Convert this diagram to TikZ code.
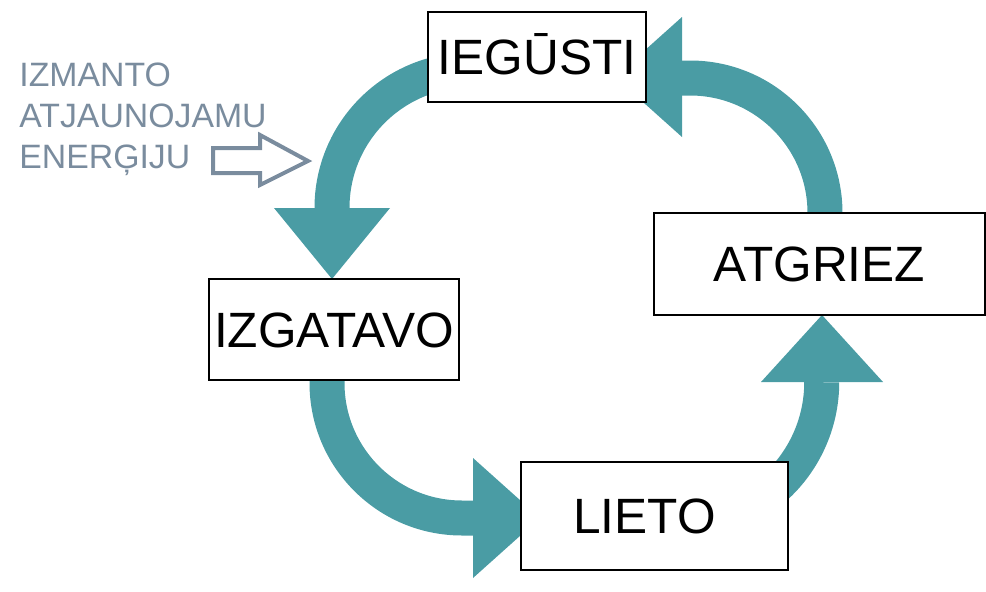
\documentclass[tikz,border=0pt]{standalone}
\usepackage{fontspec}
\setmainfont{Liberation Sans}
\definecolor{cycleteal}{RGB}{74,156,164}
\definecolor{notegray}{RGB}{122,140,158}
\tikzset{
  stagebox/.style={draw, rectangle, fill=white, line width=0.7pt, inner sep=0pt, font=\fontsize{24.8}{30}\selectfont, text height=17.8pt, text depth=0pt},
  band/.style={draw=cycleteal, line width=17.5pt},
  bandhead/.style={fill=cycleteal},
  noteline/.style={text=notegray, font=\fontsize{16.9}{20}\selectfont, text width=130pt, align=left, inner sep=0pt, text height=12.1pt, text depth=0pt}
}
\begin{document}
\begin{tikzpicture}[x=0.5pt, y=0.5pt]
\useasboundingbox (0,0) rectangle (986,591);
% the four curved arrows
\draw[band] (470,521) arc[start angle=90, end angle=180, radius=138] -- (332,383);
\fill[bandhead] (274,383) -- (390,383) -- (332,312) -- cycle;
\draw[band] (327,225) -- (327,208) arc[start angle=180, end angle=270, radius=135] -- (473,73);
\fill[bandhead] (473,133) -- (540,73) -- (473,13) -- cycle;
\draw[band] (771,100) arc[start angle=-50, end angle=0, radius=142] -- (822,209);
\fill[bandhead] (761,209) -- (883,209) -- (822,276) -- cycle;
\draw[band] (825,360) -- (825,378) arc[start angle=0, end angle=90, radius=135] -- (682,513);
\fill[bandhead] (682,574) -- (682,454) -- (615,514) -- cycle;
% stages
\node (iegusti) [stagebox, minimum width=109pt, minimum height=45pt] at (537,534) {IEGŪSTI};
\node (izgatavo) [stagebox, minimum width=125pt, minimum height=50.5pt] at (334,261.5) {IZGATAVO};
\node (lieto) [stagebox, minimum width=133.5pt, minimum height=54pt] at (654.5,75) {\kern-10pt LIETO};
\node (atgriez) [stagebox, minimum width=165.5pt, minimum height=51pt] at (819.5,327) {ATGRIEZ};
% note on the left
\node (izmanto) [noteline, anchor=north west] at (19,529) {IZMANTO};
\node (atjauno) [noteline, node distance=20.5pt, below of=izmanto] {ATJAUNOJAMU};
\node (energiju) [noteline, node distance=20.5pt, below of=atjauno] {ENERĢIJU};
\draw[notegray, line width=2pt] (213,443) -- (260,443) -- (260,456) -- (308,430) -- (260,406) -- (260,418) -- (213,418) -- cycle;
\end{tikzpicture}
\end{document}
